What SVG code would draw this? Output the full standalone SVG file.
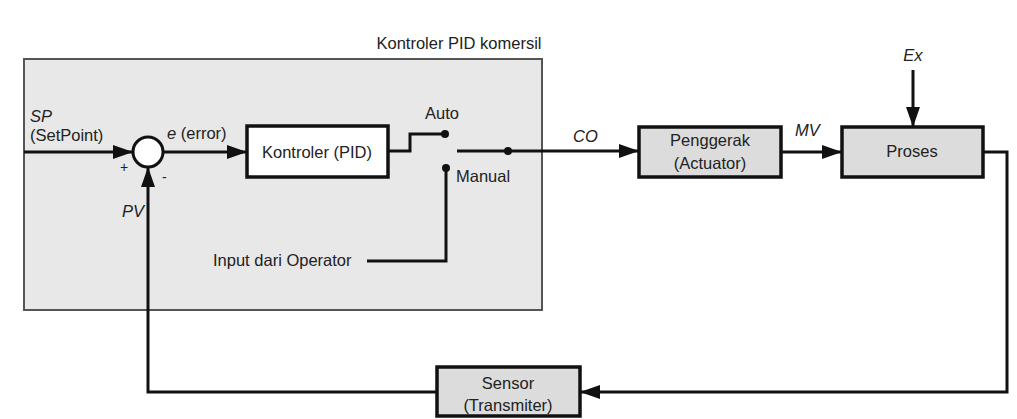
<svg xmlns="http://www.w3.org/2000/svg" width="1017" height="419" viewBox="0 0 1017 419">
<style>
text{font-family:"Liberation Sans",Arial,sans-serif;font-size:16.5px;fill:#222}
.it{font-style:italic}
.mid{text-anchor:middle}
.box{stroke:#111;stroke-width:3.5}
.w{fill:none;stroke:#111;stroke-width:3;stroke-linejoin:miter}
</style>
<defs>
<marker id="ah" markerUnits="userSpaceOnUse" markerWidth="20" markerHeight="14" refX="20" refY="7" orient="auto">
<path d="M0,0 L20,7 L0,14 z" fill="#111"/>
</marker>
</defs>
<rect width="1017" height="419" fill="#fff"/>
<g id="container">
<rect x="24" y="59" width="518" height="251" fill="#e8e8e8" stroke="#555" stroke-width="2"/>
<text x="459" y="49" class="mid">Kontroler PID komersil</text>
</g>
<g id="connectors">
<path class="w" d="M24,152 H133" marker-end="url(#ah)"/>
<path class="w" d="M163,152 H247" marker-end="url(#ah)"/>
<path class="w" d="M388,151 H410 V134 H445"/>
<path class="w" d="M457,151 H639" marker-end="url(#ah)"/>
<path class="w" d="M446,168 V261 H367"/>
<path class="w" d="M781,152 H842" marker-end="url(#ah)"/>
<path class="w" d="M913,70 V127" marker-end="url(#ah)"/>
<path class="w" d="M983,152 H1007 V392 H580" marker-end="url(#ah)"/>
<path class="w" d="M437,392 H148 V167" marker-end="url(#ah)"/>
<circle cx="445" cy="134" r="4" fill="#111"/>
<circle cx="446" cy="168" r="4" fill="#111"/>
<circle cx="508" cy="151" r="4" fill="#111"/>
</g>
<g id="sum">
<circle cx="148" cy="152" r="15" fill="#fff" stroke="#111" stroke-width="3"/>
<text x="120" y="172" style="font-size:14px">+</text>
<text x="162" y="182" style="font-size:14px">-</text>
</g>
<g id="labels">
<text x="30" y="122" class="it">SP</text>
<text x="30" y="141">(SetPoint)</text>
<text x="167" y="139"><tspan class="it">e</tspan> (error)</text>
<text x="122" y="217" class="it">PV</text>
<text x="425" y="119">Auto</text>
<text x="456" y="182">Manual</text>
<text x="573" y="142" class="it">CO</text>
<text x="795" y="136" class="it">MV</text>
<text x="913" y="61" class="it mid">Ex</text>
<text x="213" y="266">Input dari Operator</text>
</g>
<g id="kontroler">
<rect class="box" x="247" y="126" width="141" height="51" fill="#fff"/>
<text x="317" y="158" class="mid">Kontroler (PID)</text>
</g>
<g id="penggerak">
<rect class="box" x="639" y="127" width="142" height="50" fill="#dcdcdc"/>
<text x="710" y="146" class="mid">Penggerak</text>
<text x="710" y="169" class="mid">(Actuator)</text>
</g>
<g id="proses">
<rect class="box" x="842" y="127" width="141" height="50" fill="#dcdcdc"/>
<text x="912" y="157" class="mid">Proses</text>
</g>
<g id="sensor">
<rect class="box" x="437" y="367" width="143" height="49" fill="#dcdcdc"/>
<text x="508" y="389" class="mid">Sensor</text>
<text x="508" y="411" class="mid">(Transmiter)</text>
</g>
</svg>
